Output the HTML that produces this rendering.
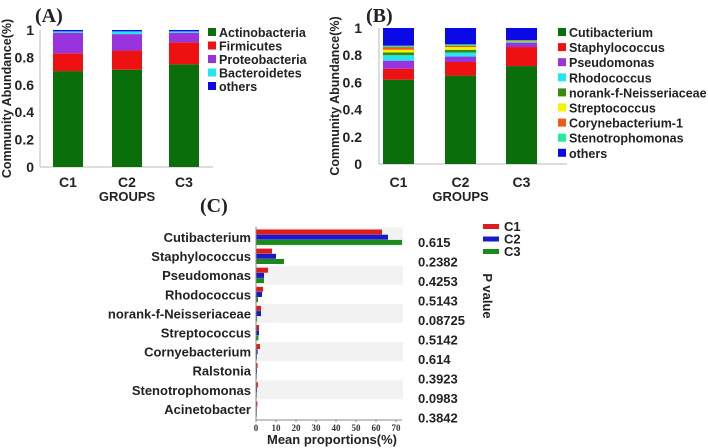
<!DOCTYPE html>
<html><head><meta charset="utf-8"><style>
body{margin:0;background:#fff;}
svg{display:block;font-family:"Liberation Sans",sans-serif;}
</style></head><body>
<svg id="fig" width="708" height="448" viewBox="0 0 708 448"></svg>
<script>
// Panel A data
const groupsA = ['C1','C2','C3'];
const phylaNames = ['Actinobacteria','Firmicutes','Proteobacteria','Bacteroidetes','others'];
const phylaColors = ['#0a6e0a','#ee1111','#9933dd','#22e6f0','#0a0ae6'];
const actinoVals = [0.70,0.71,0.75];
const firmVals = [0.13,0.14,0.16];
const proteoVals = [0.15,0.12,0.07];
const bactVals = [0.01,0.02,0.01];
const othersAVals = [0.01,0.01,0.01];
// Panel B data
const generaNames = ['Cutibacterium','Staphylococcus','Pseudomonas','Rhodococcus','norank-f-Neisseriaceae','Streptococcus','Corynebacterium-1','Stenotrophomonas','others'];
const generaColors = ['#0a6e0a','#ee1111','#9933dd','#22e6f0','#3a8a12','#f5f500','#f05a14','#22ee99','#0a0ae6'];
const cutiVals = [0.62,0.65,0.72];
const staphVals = [0.08,0.10,0.14];
const pseudoVals = [0.06,0.04,0.03];
const rhodoVals = [0.04,0.03,0.005];
const norankVals = [0.02,0.02,0.005];
const streptoVals = [0.02,0.02,0.004];
const coryneVals = [0.02,0.01,0.003];
const stenoVals = [0.01,0.01,0.003];
const othersBVals = [0.13,0.12,0.09];
// Panel C data
const taxaC = ['Cutibacterium','Staphylococcus','Pseudomonas','Rhodococcus','norank-f-Neisseriaceae','Streptococcus','Cornyebacterium','Ralstonia','Stenotrophomonas','Acinetobacter'];
const c1Vals = [63,8,6,3.5,2.5,1.5,2,0.8,1,0.7];
const c2Vals = [66,10,4,3,2.5,1.5,0.8,0.5,0.5,0.3];
const c3Vals = [73,14,4,1,0.5,1.2,0.5,0.3,0.3,0.2];
const pVals = ['0.615','0.2382','0.4253','0.5143','0.08725','0.5142','0.614','0.3923','0.0983','0.3842'];
const xTicksC = [0,10,20,30,40,50,60,70];
const yTicksAB = [0,0.2,0.4,0.6,0.8,1];

const svg = document.getElementById('fig');
const NS = 'http://www.w3.org/2000/svg';
function mk(tag, attrs, parent){ const e=document.createElementNS(NS,tag); for(const k in attrs) e.setAttribute(k,attrs[k]); (parent||svg).appendChild(e); return e; }
function txt(s, attrs, parent){ const e=mk('text',attrs,parent); e.textContent=s; return e; }

function stackPanel(name, ox, x0, barLefts, barW, y0, y1, series, colors, names, legX, legY, legDy, tickX, ytitleX, legFs){
  const g = mk('g',{});
  
  
  const yS = v => y0 - v*(y0-y1);
  mk('line',{x1:x0,y1:y0,x2:x0,y2:y1,stroke:'#bbb','stroke-width':1},g);
  mk('line',{x1:x0,y1:y0,x2:ox+213,y2:y0,stroke:'#bbb','stroke-width':1},g);
  yTicksAB.forEach(t=>{
    const l = txt(String(t),{x:tickX,y:yS(t)+5,'text-anchor':'end','font-size':14,'font-weight':'bold',fill:'#222'},g);
    
    
  });
  barLefts.forEach((bx,i)=>{
    let cum=0;
    series.forEach((s,j)=>{
      const v=s[i];
      const r = mk('rect',{x:bx,y:yS(cum+v),width:barW,height:Math.max(0,yS(cum)-yS(cum+v)),fill:colors[j]},g);
      
      
      cum+=v;
    });
    const xl = txt(groupsA[i],{x:bx+barW/2,y:187,'text-anchor':'middle','font-size':14,'font-weight':'bold',fill:'#222'},g);
    
    
  });
  const gt = txt('GROUPS',{x:barLefts[1]+barW/2,y:201,'text-anchor':'middle','font-size':13,'font-weight':'bold',fill:'#222'},g);
  
  
  const yt = txt('Community Abundance(%)',{x:0,y:0,transform:`translate(${ytitleX},${(y0+y1)/2}) rotate(-90)`,'text-anchor':'middle','font-size':12.5,'font-weight':'bold',fill:'#222'},g);
  
  
  names.forEach((n,j)=>{
    const le = mk('g',{},g);
    
    
    mk('rect',{x:legX,y:legY+j*legDy-4,width:8,height:8,fill:colors[j]},le);
    txt(n,{x:legX+11,y:legY+j*legDy+5,'font-size':legFs,'font-weight':'bold',fill:'#222'},le);
  });
}

stackPanel('panel-a-stacked-chart',0,40,[53,112,169],30,167,30,[actinoVals,firmVals,proteoVals,bactVals,othersAVals],phylaColors,phylaNames,208,32,13.5,34,11,12.5);
stackPanel('panel-b-stacked-chart',354,379,[383,445,506],31,164,28,[cutiVals,staphVals,pseudoVals,rhodoVals,norankVals,streptoVals,coryneVals,stenoVals,othersBVals],generaColors,generaNames,558,32,15.1,362,339,12.5);

// panel labels
[['(A)',35,22,'panel-a-label'],['(B)',366,22,'panel-b-label'],['(C)',200,212,'panel-c-label']].forEach(([s,x,y,n])=>{
  const t = txt(s,{x:x,y:y,'font-size':20,'font-weight':'bold','font-family':'"Liberation Serif",serif',fill:'#222'});
  
  
});

// Panel C
const gc = mk('g',{});


const cx0 = 256, cxS = v => cx0 + v*2.0;
const rowY = i => 237 + i*19.1;
taxaC.forEach((t,i)=>{
  if(i%2===0){ const bg=mk('rect',{x:cx0,y:rowY(i)-9.5,width:147,height:19,fill:'#f2f2f2'},gc);
      }
});
taxaC.forEach((t,i)=>{
  const cy=rowY(i);
  [[c1Vals,'#dd1c1c'],[c2Vals,'#1a1acc'],[c3Vals,'#1a8a1a']].forEach(([arr,col],k)=>{
    const r = mk('rect',{x:cx0,y:cy-7.5+k*5.2,width:Math.max(0.8,cxS(arr[i])-cx0),height:5,fill:col},gc);
    
    
  });
  const lb = txt(t,{x:251,y:cy+5,'text-anchor':'end','font-size':13,'font-weight':'bold',fill:'#222'},gc);
  
  
  const pv = txt(pVals[i],{x:418,y:cy+10+i*0.4,'font-size':13,'font-weight':'bold',fill:'#222'},gc);
  
  
});
mk('line',{x1:cx0,y1:227,x2:cx0,y2:420,stroke:'#888','stroke-width':1},gc);
mk('line',{x1:cx0,y1:420,x2:cxS(73),y2:420,stroke:'#888','stroke-width':1},gc);
xTicksC.forEach(v=>{
  mk('line',{x1:cxS(v),y1:420,x2:cxS(v),y2:422,stroke:'#888'},gc);
  const l = txt(String(v),{x:cxS(v),y:431,'text-anchor':'middle','font-size':9,'font-weight':'bold','font-family':'"Liberation Serif",serif',fill:'#333'},gc);
  
  
});
const xtc = txt('Mean proportions(%)',{x:332,y:444,'text-anchor':'middle','font-size':13,'font-weight':'bold',fill:'#222'},gc);


['C1','C2','C3'].forEach((n,k)=>{
  const le = mk('g',{},gc);
  
  
  mk('rect',{x:483,y:224+k*12.5,width:16,height:5,fill:['#dd1c1c','#1a1acc','#1a8a1a'][k]},le);
  txt(n,{x:504,y:231+k*12.5,'font-size':13,'font-weight':'bold',fill:'#222'},le);
});
const pt = txt('P value',{x:0,y:0,transform:'translate(483,296) rotate(90)','text-anchor':'middle','font-size':13,'font-weight':'bold',fill:'#222'},gc);


</script>
</body></html>
